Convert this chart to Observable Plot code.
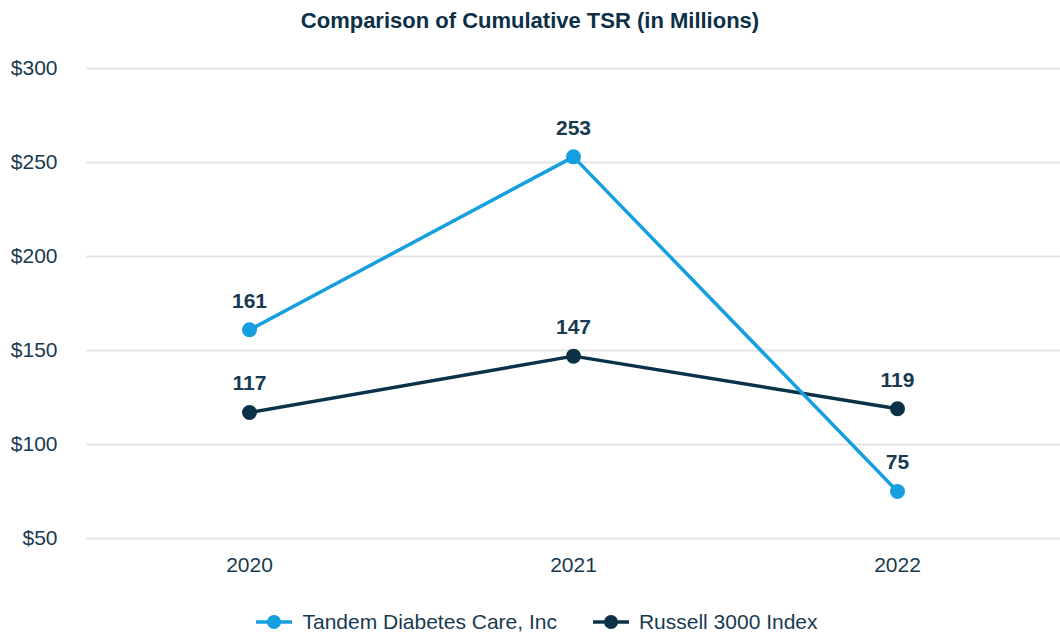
<!DOCTYPE html>
<html><head>
<meta charset="utf-8">
<script src="https://cdn.jsdelivr.net/npm/d3@7"></script>
<script src="https://cdn.jsdelivr.net/npm/@observablehq/plot@0.6"></script>
<style>
body{margin:0;background:#fff;font-family:"Liberation Sans",Arial,sans-serif;overflow:hidden;width:1060px;height:637px;}
#title{height:44px;line-height:42px;text-align:center;font-weight:bold;font-size:22px;color:#0d3047;}
#chart svg{display:block;}
#legend{height:44px;display:flex;justify-content:center;align-items:center;padding-left:14px;font-size:21px;color:#183a50;}
.item{display:flex;align-items:center;margin:0 18px;}
.item svg{margin-right:10px;}
</style></head><body>
<div id="title">Comparison of Cumulative TSR (in Millions)</div>
<div id="chart"></div>
<div id="legend"></div>
<script>
const years = ["2020", "2021", "2022"];
const seriesNames = ["Tandem Diabetes Care, Inc", "Russell 3000 Index"];
const tandem = [161, 253, 75];
const russell = [117, 147, 119];
const yTicks = [50, 100, 150, 200, 250, 300];
const colors = ["#169fe0", "#0c3249"];
const textColor = "#183a50";

const rows = [];
[tandem, russell].forEach((vals, i) => {
  vals.forEach((v, j) => rows.push({series: seriesNames[i], year: years[j], value: v}));
});
const drawOrder = [seriesNames[1], seriesNames[0]];
const ordered = drawOrder.flatMap(s => rows.filter(r => r.series === s));

const chart = Plot.plot({
  width: 1060,
  height: 556,
  marginLeft: 86,
  marginRight: 0,
  marginTop: 24,
  marginBottom: 62,
  style: {fontFamily: "'Liberation Sans', Arial, sans-serif", background: "#fff"},
  x: {type: "point", domain: years, padding: 0.5, label: null},
  y: {domain: [50, 300], label: null},
  color: {domain: seriesNames, range: colors},
  marks: [
    Plot.ruleY(yTicks, {stroke: "#e5e5e5", strokeWidth: 2}),
    Plot.axisY({ticks: yTicks, tickSize: 0, tickPadding: 29, tickFormat: d => "$" + d, fontSize: 21, fill: textColor}),
    Plot.axisX({tickSize: 0, tickPadding: 19, fontSize: 21, fill: textColor}),
    Plot.line(ordered, {x: "year", y: "value", z: "series", stroke: "series", strokeWidth: 3.5}),
    Plot.dot(ordered, {x: "year", y: "value", fill: "series", r: 7.5}),
    Plot.text(ordered, {x: "year", y: "value", text: d => String(d.value), dy: -29, fontWeight: "bold", fontSize: 21, fill: textColor})
  ]
});
document.getElementById("chart").appendChild(chart);

const legend = document.getElementById("legend");
seriesNames.forEach((name, i) => {
  const item = document.createElement("div");
  item.className = "item";
  item.innerHTML = `<svg width="36" height="18"><line x1="0" y1="9" x2="36" y2="9" stroke="${colors[i]}" stroke-width="3.5"/><circle cx="18" cy="9" r="7" fill="${colors[i]}"/></svg><span>${name}</span>`;
  legend.appendChild(item);
});
</script>
</body></html>
